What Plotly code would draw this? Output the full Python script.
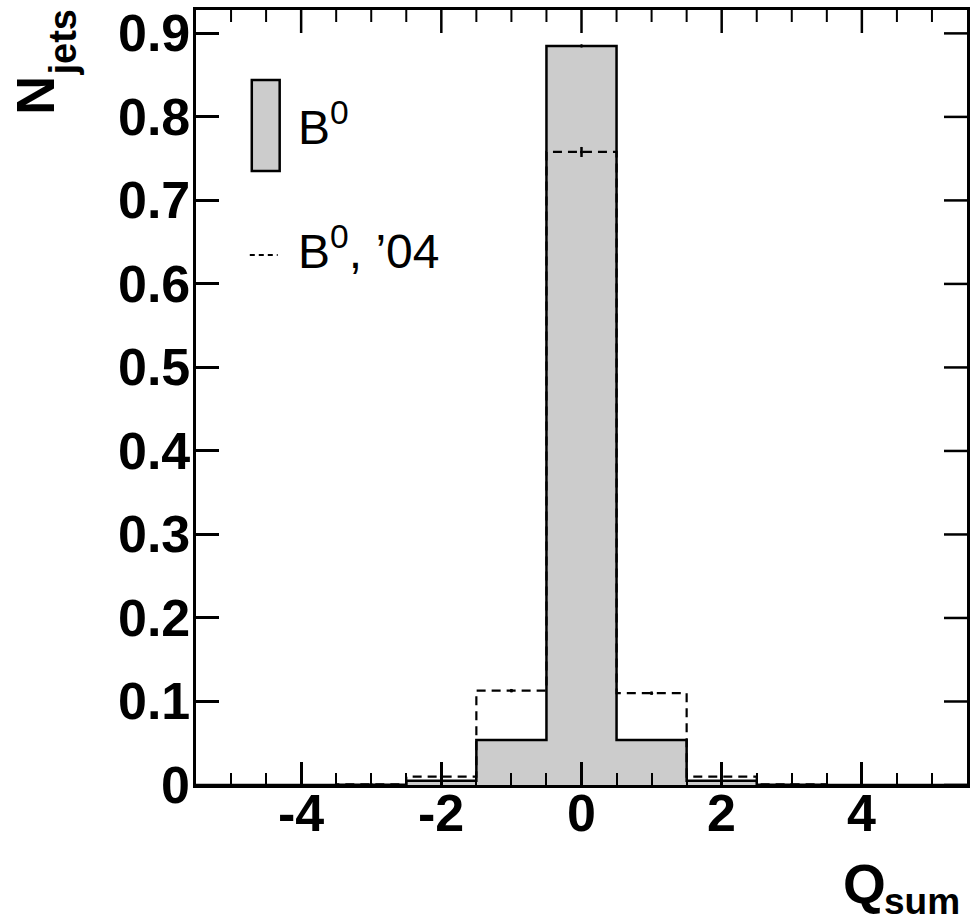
import numpy as np
import plotly.graph_objects as go

# ---- data ----
bin_centers = [-5, -4, -3, -2, -1, 0, 1, 2, 3, 4, 5]
b0_values = [0, 0, 0.0004, 0.005, 0.054, 0.885, 0.054, 0.005, 0.0004, 0, 0]
b0_errors = [0, 0, 0, 0.0003, 0.001, 0.002, 0.001, 0.0003, 0, 0, 0]
b04_values = [0, 0, 0.0008, 0.010, 0.113, 0.758, 0.110, 0.010, 0.0008, 0, 0]
b04_errors = [0, 0, 0, 0.0005, 0.002, 0.006, 0.002, 0.0005, 0, 0, 0]
x_tickvals = [-4, -2, 0, 2, 4]
x_ticktext = ["-4", "-2", "0", "2", "4"]
y_tickvals = [0, 0.1, 0.2, 0.3, 0.4, 0.5, 0.6, 0.7, 0.8, 0.9]
y_ticktext = ["0", "0.1", "0.2", "0.3", "0.4", "0.5", "0.6", "0.7", "0.8", "0.9"]

W, H = 975, 920
L, R, T, B = 196, 970, 10, 785
FONT = "Liberation Sans"
X_RANGE = [-5.5, 5.5]
Y_RANGE = [0, 0.928]
MAJOR_LEN, MINOR_LEN = 23, 12


def px(x):
    return (x - L) / (R - L)


def py(y):
    return (B - y) / (B - T)


edges = [c - 0.5 for c in bin_centers] + [bin_centers[-1] + 0.5]

fig = go.Figure()
fig.add_trace(go.Scatter(
    x=edges, y=b0_values + [b0_values[-1]], mode="lines", line_shape="hv",
    line=dict(color="black", width=2.5), fill="tozeroy", fillcolor="#cccccc",
    showlegend=False, hoverinfo="skip"))
fig.add_trace(go.Scatter(
    x=bin_centers, y=b0_values, mode="markers", marker=dict(size=1, color="black"),
    error_y=dict(type="data", array=b0_errors, width=0, thickness=2, color="black"),
    showlegend=False))
fig.add_trace(go.Scatter(
    x=edges, y=b04_values + [b04_values[-1]], mode="lines", line_shape="hv",
    line=dict(color="black", width=2.2, dash="9px,6px"),
    showlegend=False, hoverinfo="skip"))
fig.add_trace(go.Scatter(
    x=bin_centers, y=b04_values, mode="markers", marker=dict(size=3, color="black"),
    error_y=dict(type="data", array=b04_errors, width=0, thickness=2.5, color="black"),
    showlegend=False))

tickfont = dict(family=FONT, size=52, color="black", weight="bold")
minor_x = [float(v) for v in np.arange(-5, 5.01, 0.5) if v not in x_tickvals]

common = dict(ticks="inside", ticklen=MAJOR_LEN, tickwidth=2.5, tickcolor="black",
              showline=True, linewidth=2.5, linecolor="black", mirror=True,
              showgrid=False, zeroline=False, showticklabels=False)
xminor = dict(tickmode="array", tickvals=minor_x, ticks="inside", ticklen=MINOR_LEN,
              tickwidth=2, tickcolor="black", showgrid=False)

fig.update_layout(
    xaxis=dict(range=X_RANGE, tickmode="array", tickvals=x_tickvals, minor=xminor, **common),
    yaxis=dict(range=Y_RANGE, tickmode="array", tickvals=y_tickvals, **common),
)

shapes = []
# mirrored ticks on the top edge (x in data coordinates, length in pixels)
for v, ln, lw in [(v, MAJOR_LEN, 2.5) for v in x_tickvals] + [(v, MINOR_LEN, 2) for v in minor_x]:
    shapes.append(dict(type="line", xref="x", yref="paper", ysizemode="pixel", yanchor=1,
                       x0=v, x1=v, y0=0, y1=-ln, line=dict(color="black", width=lw),
                       layer="above"))
# mirrored ticks on the right edge
for v in y_tickvals:
    shapes.append(dict(type="line", xref="paper", yref="y", xsizemode="pixel", xanchor=1,
                       x0=0, x1=-MAJOR_LEN, y0=v, y1=v, line=dict(color="black", width=2.5),
                       layer="above"))
# legend keys
shapes.append(dict(type="rect", xref="paper", yref="paper", x0=px(252), x1=px(280),
                   y0=py(171), y1=py(80), fillcolor="#cccccc",
                   line=dict(color="black", width=2.5)))
shapes.append(dict(type="line", xref="paper", yref="paper", x0=px(250), x1=px(278),
                   y0=py(255), y1=py(255), line=dict(color="black", width=2.2, dash="5px,4px")))

ann = []
# x tick labels
for v, t in zip(x_tickvals, x_ticktext):
    ann.append(dict(text=t, x=v, y=0, xref="x", yref="paper", xanchor="center",
                    yanchor="top", yshift=3, showarrow=False, font=tickfont))
# y tick labels
for v, t in zip(y_tickvals, y_ticktext):
    ann.append(dict(text=t, x=0, y=v, xref="paper", yref="y", xanchor="right",
                    yanchor="middle", xshift=-4, showarrow=False, font=tickfont))
ann.append(dict(text="N", x=px(34), y=py(95), xref="paper", yref="paper",
                xanchor="center", yanchor="middle", showarrow=False, textangle=-90,
                font=dict(family=FONT, size=54, color="black", weight="bold")))
ann.append(dict(text="jets", x=px(62), y=py(43), xref="paper", yref="paper",
                xanchor="center", yanchor="middle", showarrow=False, textangle=-90,
                font=dict(family=FONT, size=38, color="black", weight="bold")))
ann.append(dict(text="Q", x=px(867), y=py(884), xref="paper", yref="paper",
                xanchor="center", yanchor="middle", showarrow=False,
                font=dict(family=FONT, size=55, color="black", weight="bold")))
ann.append(dict(text="sum", x=px(925), y=py(901), xref="paper", yref="paper",
                xanchor="center", yanchor="middle", showarrow=False,
                font=dict(family=FONT, size=37, color="black", weight="bold")))
ann.append(dict(text="B<sup>0</sup>", x=px(296), y=py(124), xref="paper", yref="paper",
                xanchor="left", yanchor="middle", showarrow=False,
                font=dict(family=FONT, size=48, color="black")))
ann.append(dict(text="B<sup>0</sup>, \u201904", x=px(296), y=py(248), xref="paper", yref="paper",
                xanchor="left", yanchor="middle", showarrow=False,
                font=dict(family=FONT, size=48, color="black")))

fig.update_layout(
    width=W, height=H, margin=dict(l=L, r=W - R, t=T, b=H - B),
    paper_bgcolor="white", plot_bgcolor="white",
    annotations=ann, shapes=shapes, showlegend=False)

fig.write_html("out.html")
